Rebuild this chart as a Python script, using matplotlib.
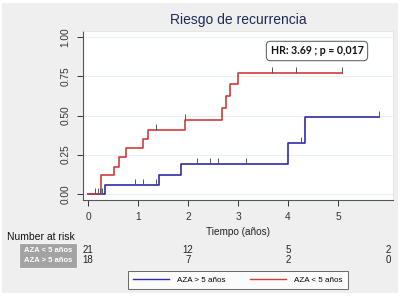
import numpy as np
import matplotlib
matplotlib.use("Agg")
import matplotlib.pyplot as plt
from matplotlib.patches import Rectangle
from matplotlib.markers import TICKUP
from matplotlib.lines import Line2D

plt.rcParams['font.family'] = ['Liberation Sans', 'DejaVu Sans']

# ---- data ----
red_t = [0, 0.26, 0.52, 0.61, 0.75, 1.09, 1.19, 1.93, 2.67, 2.76, 2.83, 3.0, 5.07]
red_y = [0, 0.117, 0.174, 0.234, 0.291, 0.350, 0.41, 0.471, 0.55, 0.624, 0.699, 0.773, 0.773]
red_cens = [0.14, 0.19, 1.35, 1.93, 3.67, 4.16, 5.07]

blue_t = [0, 0.34, 1.42, 1.85, 3.99, 4.33, 5.82]
blue_y = [0, 0.057, 0.121, 0.189, 0.323, 0.49, 0.49]
blue_cens = [0.23, 0.28, 0.93, 1.1, 1.35, 2.17, 2.43, 2.59, 3.16, 4.25, 5.82]

risk_times = [0, 2, 4, 6]
risk_lt5 = [21, 12, 5, 2]
risk_gt5 = [18, 7, 2, 0]
group_labels = ["AZA < 5 años", "AZA > 5 años"]

xticks = [0, 1, 2, 3, 4, 5]
yticks = [0.0, 0.25, 0.5, 0.75, 1.0]
ytick_labels = ["0.00", "0.25", "0.50", "0.75", "1.00"]

RED = "#d23c3c"
BLUE = "#2c2ca6"
W, H = 400, 296

fig = plt.figure(figsize=(4.0, 2.96), dpi=100)
fig.patch.set_facecolor("white")
bg = Rectangle((2 / W, 3 / H), 396 / W, 290 / H, transform=fig.transFigure,
               facecolor="#efefef", edgecolor="none", zorder=-10)
fig.patches.append(bg)

ax = fig.add_axes([83 / W, (H - 200) / H, 310 / W, 169 / H])
ax.set_facecolor("white")
ax.set_xlim(-0.1, 6.1)
ax.set_ylim(-0.04, 1.04)

for y in yticks:
    ax.axhline(y, color="#eaeff0", lw=0.8, zorder=0)


def step_val(ts, ys, t):
    i = np.searchsorted(ts, t, side="right") - 1
    return ys[max(i, 0)]


ax.step(blue_t, blue_y, where="post", color=BLUE, lw=1.2, zorder=3)
ax.step(red_t, red_y, where="post", color=RED, lw=1.2, zorder=4)
ax.plot(blue_cens, [step_val(blue_t, blue_y, t) for t in blue_cens], ls="none",
        marker=TICKUP, ms=4, mew=0.7, color="#555555", zorder=5)
ax.plot(red_cens, [step_val(red_t, red_y, t) for t in red_cens], ls="none",
        marker=TICKUP, ms=4, mew=0.7, color="#555555", zorder=5)

ax.set_xticks(xticks)
ax.set_yticks(yticks)
ax.set_yticklabels(ytick_labels, rotation=90, va="center")
ax.tick_params(axis="both", labelsize=7.3, colors="#333333", length=4, width=0.7)
ax.tick_params(axis="y", pad=5)
ax.tick_params(axis="x", pad=5)
for s in ["top", "right"]:
    ax.spines[s].set_color("#e2e2e2")
    ax.spines[s].set_linewidth(0.6)
for s in ["left", "bottom"]:
    ax.spines[s].set_color("#555555")
    ax.spines[s].set_linewidth(0.8)

ax.set_xlabel("Tiempo (años)", fontsize=7.2, color="#222222", labelpad=3)

fig.text(238 / W, 1 - 20 / H, "Riesgo de recurrencia", fontsize=10, color="#1c2b55",
         ha="center", va="center")

fig.text(317 / W, 1 - 51 / H, "HR: 3.69 ; p = 0,017", fontsize=7.6, fontweight="bold",
         ha="center", va="center", family=["Lato", "DejaVu Sans"], color="#111111",
         bbox=dict(boxstyle="round,pad=0.4,rounding_size=0.4", facecolor="white",
                   edgecolor="#555555", lw=0.7))

# Number at risk
fig.text(7 / W, 1 - 237 / H, "Number at risk", fontsize=7.5, color="#111111",
         ha="left", va="center")
box = Rectangle((19 / W, 1 - 268 / H), 58 / W, 25 / H, transform=fig.transFigure,
                facecolor="#a3a3a3", edgecolor="#f4f4f4", lw=0.8, zorder=1)
fig.patches.append(box)
for j, (lab, vals) in enumerate(zip(group_labels, [risk_lt5, risk_gt5])):
    ypix = 250 + j * 10
    fig.text(48 / W, 1 - ypix / H, lab, fontsize=5.5, color="white", fontweight="bold",
             ha="center", va="center", zorder=2)
    for t, v in zip(risk_times, vals):
        xd = ax.transData.transform((t, 0))[0]
        fig.text(xd / fig.bbox.width, 1 - ypix / H, str(v), fontsize=7,
                 color="#222222", ha="center", va="center")

# Legend
handles = [Line2D([], [], color=BLUE, lw=1.0), Line2D([], [], color=RED, lw=1.0)]
leg = fig.legend(handles, ["AZA > 5 años", "AZA < 5 años"], loc="center",
                 bbox_to_anchor=(238 / W, 1 - 280 / H), ncol=2, fontsize=5.8,
                 frameon=True, fancybox=False, edgecolor="#444444", handlelength=4.5,
                 columnspacing=3, borderpad=0.6, handletextpad=1.0)
leg.get_frame().set_linewidth(0.7)

fig.savefig("out.png", dpi=100, facecolor=fig.get_facecolor())
